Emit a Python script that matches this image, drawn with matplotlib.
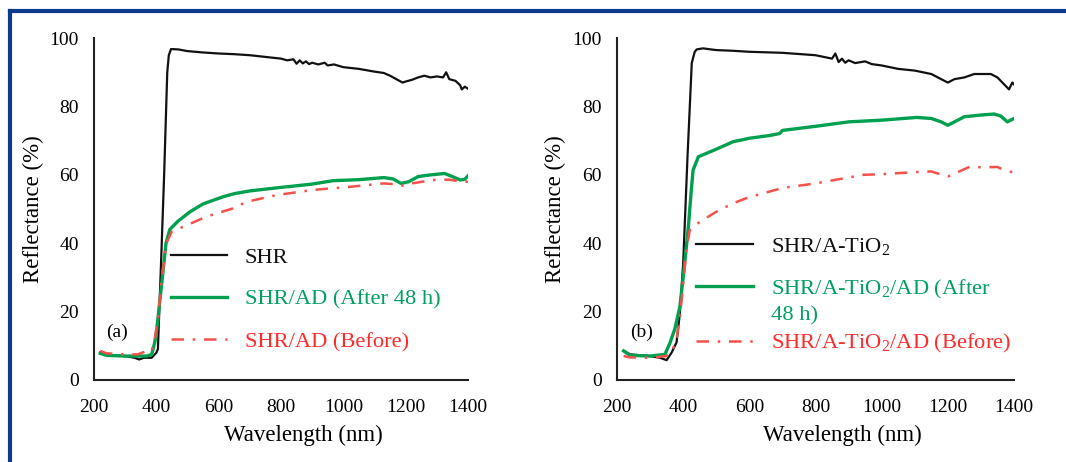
import numpy as np
import matplotlib
matplotlib.use("Agg")
import matplotlib.pyplot as plt
from matplotlib.lines import Line2D
from matplotlib.legend_handler import HandlerLine2D

plt.rcParams["font.family"] = ["Liberation Serif", "DejaVu Serif"]
plt.rcParams["mathtext.fontset"] = "custom"
plt.rcParams["mathtext.rm"] = "Liberation Serif"
plt.rcParams["mathtext.default"] = "regular"

# ---- panel (a) ----
wl_a_shr = [220, 250, 300, 330, 345, 360, 385, 400, 405, 415, 425, 435, 440, 447, 470, 500, 550, 600, 650,
            700, 750, 800, 820, 840, 850, 860, 870, 880, 890, 900, 920, 940, 950, 970, 1000, 1050,
            1100, 1130, 1150, 1170, 1190, 1200, 1220, 1240, 1260, 1280, 1300, 1320, 1330, 1340,
            1360, 1375, 1380, 1390, 1400]
r_a_shr = [8, 7.2, 7, 6.5, 6, 6.5, 6.5, 8, 9, 34, 60, 90, 95, 96.8, 96.7, 96.2, 95.8, 95.5, 95.3,
           95, 94.5, 94, 93.5, 93.8, 92.5, 93.5, 92.6, 93.2, 92.4, 92.8, 92.3, 92.8, 92, 92.3, 91.5, 91,
           90.2, 89.8, 89, 88, 87, 87.3, 87.8, 88.5, 89, 88.5, 88.8, 88.5, 90, 88,
           87.5, 86.2, 85, 85.8, 85.2]

wl_a_ad = [220, 240, 300, 340, 370, 385, 395, 401, 417, 431, 443, 470, 508, 550, 614, 650, 700,
           786, 900, 967, 1050, 1130, 1160, 1185, 1210, 1240, 1280, 1325, 1350, 1375, 1390, 1400]
r_a_ad = [7.8, 7.2, 7, 7, 7, 7.5, 11, 14.6, 28, 40, 44, 46.5, 49.2, 51.5, 53.6, 54.5, 55.3,
          56.2, 57.3, 58.3, 58.6, 59.2, 58.8, 57.5, 58, 59.5, 60, 60.4, 59.5, 58.5, 58.7, 59.7]

wl_a_bef = [220, 240, 300, 340, 370, 385, 395, 405, 418, 432, 450, 486, 561, 646, 689, 786, 903,
            1021, 1128, 1160, 1181, 1220, 1287, 1340, 1380, 1400]
r_a_bef = [8.5, 7.8, 7.5, 7.5, 8.5, 8.5, 12, 18, 30, 40, 43.5, 44.8, 47.8, 50.2, 52.1, 54.1, 55.6,
           56.5, 57.5, 57.3, 56.7, 57.5, 58.5, 58.6, 58, 58]

# ---- panel (b) ----
wl_b_shr = [220, 240, 300, 330, 350, 365, 380, 390, 400, 413, 426, 435, 441, 460, 500, 550, 600,
            700, 800, 850, 860, 870, 880, 890, 900, 920, 950, 970, 1000, 1050, 1100, 1150, 1180,
            1200, 1220, 1250, 1280, 1300, 1330, 1350, 1370, 1385, 1395, 1400]
r_b_shr = [8.5, 7.5, 7, 6.5, 5.8, 8, 11, 19.5, 34, 65, 92.7, 96, 96.7, 97, 96.5, 96.3, 96,
           95.7, 95, 94, 95.5, 93, 94, 92.8, 93.5, 92.7, 93.2, 92.4, 92, 91, 90.5, 89.5, 88,
           87, 88, 88.5, 89.5, 89.5, 89.5, 88.5, 86.5, 85, 87, 86.5]

wl_b_ad = [220, 240, 300, 345, 360, 375, 390, 400, 415, 425, 430, 446, 500, 551, 600, 660, 692, 700,
           800, 900, 1000, 1106, 1150, 1180, 1200, 1230, 1250, 1300, 1340, 1360, 1380, 1400]
r_b_ad = [8.5, 7.2, 7, 7.5, 10.8, 15, 21.4, 30, 44, 56, 61.4, 65.3, 67.5, 69.7, 70.7, 71.5, 72.1, 73,
          74.2, 75.5, 76, 76.8, 76.5, 75.5, 74.5, 76, 77, 77.5, 77.8, 77.2, 75.5, 76.5]

wl_b_bef = [220, 240, 300, 350, 365, 380, 390, 400, 410, 420, 451, 500, 551, 600, 702, 800, 944, 1000,
            1100, 1150, 1200, 1230, 1267, 1300, 1350, 1380, 1400]
r_b_bef = [7, 6.6, 6.5, 7, 8, 12, 18, 28, 38, 43.9, 46.3, 49.2, 51.7, 53.5, 56.2, 57.5, 60, 60.2,
           60.8, 61, 59.5, 60.8, 62.4, 62.2, 62.3, 61, 60.8]

x_ticks = [200, 400, 600, 800, 1000, 1200, 1400]
y_ticks = [0, 20, 40, 60, 80, 100]

black = "#111111"
green = "#00a04e"
red = "#f5504a"
text_cols = [black, "#00a060", "#ff2a2a"]


class RaisedLine(HandlerLine2D):
    # put the legend line next to the first row of a two-row label
    def create_artists(self, legend, orig_handle, xdescent, ydescent, width, height, fontsize, trans):
        arts = super().create_artists(legend, orig_handle, xdescent, ydescent, width, height, fontsize, trans)
        for a in arts:
            a.set_ydata(np.asarray(a.get_ydata()) + 0.65 * fontsize)
        return arts


def style_axes(ax, tag, xlab_x, ylab_x):
    ax.set_xlim(200, 1400)
    ax.set_ylim(0, 100)
    ax.set_xticks(x_ticks)
    ax.set_yticks(y_ticks)
    ax.tick_params(length=0, labelsize=14)
    ax.tick_params(axis="x", pad=14)
    ax.tick_params(axis="y", pad=11)
    for s in ["top", "right"]:
        ax.spines[s].set_visible(False)
    for s in ["left", "bottom"]:
        ax.spines[s].set_linewidth(1.5)
        ax.spines[s].set_color("#222222")
    ax.set_xlabel("Wavelength (nm)", fontsize=16.5, va="center")
    ax.set_ylabel("Reflectance (%)", fontsize=16.5, va="center")
    ax.xaxis.set_label_coords(xlab_x, -0.161)
    ax.yaxis.set_label_coords(ylab_x, 0.5)
    ax.text(273, 14, tag, fontsize=14, ha="center", va="center")


leg_kw = dict(loc="upper left", frameon=False, fontsize=16.2, handlelength=2.5,
              handletextpad=0.8, labelspacing=0.95, borderpad=0, borderaxespad=0)

fig = plt.figure(figsize=(10.66, 4.62), dpi=100)
ax_a = fig.add_axes([0.0882, 0.1775, 0.3508, 0.740])
ax_b = fig.add_axes([0.5788, 0.1775, 0.3724, 0.740])

# panel (a)
ax_a.plot(wl_a_shr, r_a_shr, color=black, lw=1.6, label="SHR")
ax_a.plot(wl_a_ad, r_a_ad, color=green, lw=2.4, label="SHR/AD (After 48 h)")
ax_a.plot(wl_a_bef, r_a_bef, color=red, lw=1.8, ls=(0, (5, 3.5, 1, 3.5)), label="SHR/AD (Before)")
style_axes(ax_a, "(a)", 0.559, -0.163)
leg = ax_a.legend(bbox_to_anchor=(0.205, 0.389), **leg_kw)
for txt, c in zip(leg.get_texts(), text_cols):
    txt.set_color(c)

# panel (b)
l1, = ax_b.plot(wl_b_shr, r_b_shr, color=black, lw=1.6, label="SHR/A-TiO$_2$")
l2, = ax_b.plot(wl_b_ad, r_b_ad, color=green, lw=2.4, label="SHR/A-TiO$_2$/AD (After\n48 h)")
l3, = ax_b.plot(wl_b_bef, r_b_bef, color=red, lw=1.8, ls=(0, (5, 3.5, 1, 3.5)),
                label="SHR/A-TiO$_2$/AD (Before)")
style_axes(ax_b, "(b)", 0.567, -0.156)
leg1 = ax_b.legend(handles=[l1, l2], bbox_to_anchor=(0.2, 0.421),
                   handler_map={l2: RaisedLine()}, **leg_kw)
for txt, c in zip(leg1.get_texts(), text_cols):
    txt.set_color(c)
    txt.set_linespacing(1.3)
ax_b.add_artist(leg1)
leg2 = ax_b.legend(handles=[l3], bbox_to_anchor=(0.2, 0.140), **leg_kw)
leg2.get_texts()[0].set_color(text_cols[2])

# dark blue frame (top and left only)
frame_c = "#0b3a8c"
fig.add_artist(Line2D([0.0094, 1.0], [0.976, 0.976], color=frame_c, lw=3, transform=fig.transFigure))
fig.add_artist(Line2D([0.0094, 0.0094], [0.0, 0.976], color=frame_c, lw=3, transform=fig.transFigure))

plt.savefig("out.png", dpi=100)
